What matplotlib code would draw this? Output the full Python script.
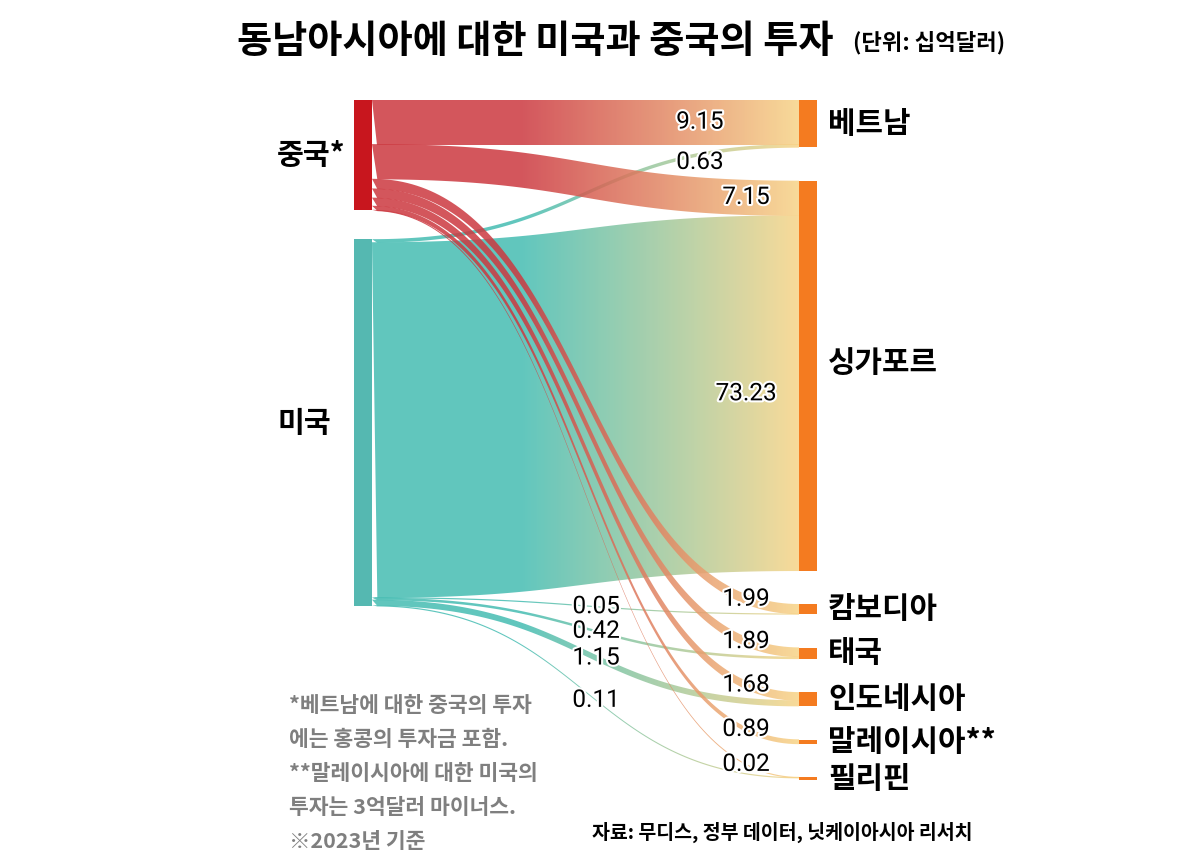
import matplotlib.pyplot as plt
import matplotlib.patheffects as pe
import numpy as np
from matplotlib.path import Path
from matplotlib.patches import PathPatch, Rectangle

plt.rcParams['font.family'] = ['Noto Sans CJK KR', 'DejaVu Sans']

# data (unit: billion USD, 2023)
sources = ['중국*', '미국']
targets = ['베트남', '싱가포르', '캄보디아', '태국', '인도네시아', '말레이시아**', '필리핀']
china = [9.15, 7.15, 1.99, 1.89, 1.68, 0.89, 0.02]
usa = [0.63, 73.23, 0.05, 0.42, 1.15, -0.3, 0.11]  # negative flows are not drawn

title = '동남아시아에 대한 미국과 중국의 투자'
unit = '(단위: 십억달러)'
notes = ['*베트남에 대한 중국의 투자', '에는 홍콩의 투자금 포함.',
         '**말레이시아에 대한 미국의', '투자는 3억달러 마이너스.', '※2023년 기준']
credit = '자료: 무디스, 정부 데이터, 닛케이아시아 리서치'

# layout
scale = 4.85          # px per billion
top = 100
gap_left, gap_right = 29, 33.5
xl0, xl1 = 354, 372   # source node column
xr0, xr1 = 799, 817   # target node column
min_node = 2.5
min_link = 1.2
overlap = 0.25        # hides seams between adjacent ribbons

src_colors = ['#c8161e', '#55b8b1']
link_colors = [(0.80, 0.22, 0.25), (0.27, 0.74, 0.70)]
end_color = (0.97, 0.83, 0.53)
tgt_color = '#f47b20'
link_alpha = 0.85

flows = [china, usa]
pos = [[max(v, 0) for v in f] for f in flows]

fig = plt.figure(figsize=(12, 8.66), dpi=100)
ax = fig.add_axes([0, 0, 1, 1])
ax.set_xlim(0, 1200)
ax.set_ylim(866, 0)
ax.axis('off')

# node extents
src_tot = [sum(p) for p in pos]
src_y = []
y = top
for t in src_tot:
    src_y.append((y, y + t * scale))
    y += t * scale + gap_left
tgt_tot = [pos[0][j] + pos[1][j] for j in range(len(targets))]
tgt_y = []
y = top
for t in tgt_tot:
    h = max(t * scale, min_node)
    tgt_y.append((y, y + h))
    y += h + gap_right

# link slots
tgt_cur = [t[0] for t in tgt_y]
links = []
for j in range(len(targets)):
    for i in range(len(sources)):
        v = pos[i][j]
        if v <= 0:
            continue
        w = v * scale
        links.append(dict(i=i, j=j, v=flows[i][j],
                          s=(0, w), t=(tgt_cur[j], tgt_cur[j] + w)))
        tgt_cur[j] += w
for i in range(len(sources)):
    cur = src_y[i][0]
    for lk in links:
        if lk['i'] == i:
            w = lk['s'][1]
            lk['s'] = (cur, cur + w)
            cur += w

ss = np.linspace(0, 1, 120)
bx = 1.5 * ss * (1 - ss) + ss ** 3
by = 3 * ss ** 2 * (1 - ss) + ss ** 3
xs = xl1 + (xr0 - xl1) * bx


def draw_link(lk):
    s0, s1 = lk['s']
    t0, t1 = lk['t']
    yt = s0 + (t0 - s0) * by
    yb = s1 + (t1 - s1) * by
    mid = (yt + yb) / 2
    half = np.maximum((yb - yt) / 2 + overlap, min_link / 2)
    yt, yb = mid - half, mid + half
    verts = np.concatenate([np.column_stack([xs, yt]), np.column_stack([xs[::-1], yb[::-1]])])
    patch = PathPatch(Path(verts, closed=True), facecolor='none', edgecolor='none')
    ax.add_patch(patch)
    g = np.linspace(0, 1, 256)
    wgt = np.clip((g - 0.35) / 0.65, 0, 1)[:, None]
    rgb = np.array(link_colors[lk['i']]) * (1 - wgt) + np.array(end_color) * wgt
    img = np.dstack([rgb[None, :, 0], rgb[None, :, 1], rgb[None, :, 2],
                     np.full((1, 256), link_alpha)])
    im = ax.imshow(img, extent=(xl1, xr0, yb.max() + 2, yt.min() - 2),
                   aspect='auto', interpolation='bilinear', zorder=2)
    im.set_clip_path(patch)
    return mid


label_t = {(0, 0): 0.768, (1, 0): 0.768, (1, 1): 0.876}
label_dy = {(1, 0): 8}
halo = [pe.withStroke(linewidth=3, foreground='white')]
for i in [1, 0]:
    for lk in links:
        if lk['i'] != i:
            continue
        mid = draw_link(lk)
        key = (lk['i'], lk['j'])
        tx = label_t.get(key, 0.876 if lk['i'] == 0 else 0.525)
        lx = xl1 + (xr0 - xl1) * tx
        ly = np.interp(lx, xs, mid) + label_dy.get(key, 0)
        ax.text(lx, ly, f"{lk['v']:.2f}", family='Roboto', fontsize=17.5,
                ha='center', va='center', color='black', zorder=5, path_effects=halo)

# nodes
name_dy = {1: -13}
for i, name in enumerate(sources):
    y0, y1 = src_y[i]
    ax.add_patch(Rectangle((xl0, y0), xl1 - xl0, y1 - y0, color=src_colors[i], lw=0, zorder=3))
    ax.text(277, (y0 + y1) / 2, name, fontsize=21, fontweight='bold', ha='left', va='center')
for j, name in enumerate(targets):
    y0, y1 = tgt_y[j]
    ax.add_patch(Rectangle((xr0, y0), xr1 - xr0, y1 - y0, color=tgt_color, lw=0, zorder=3))
    ax.text(828, (y0 + y1) / 2 + name_dy.get(j, 0), name, fontsize=21.5, fontweight='bold',
            ha='left', va='center')

ax.text(237, 41, title, fontsize=27.5, fontweight='bold', ha='left', va='center')
ax.text(853, 43, unit, fontsize=16, fontweight='bold', ha='left', va='center')
for k, line in enumerate(notes):
    ax.text(289, 706 + k * 34, line, fontsize=15.5, fontweight='bold', color='#7f7f7f',
            ha='left', va='center')
ax.text(592, 832, credit, fontsize=14, fontweight='bold', ha='left', va='center')

plt.savefig('out.png', dpi=100)
